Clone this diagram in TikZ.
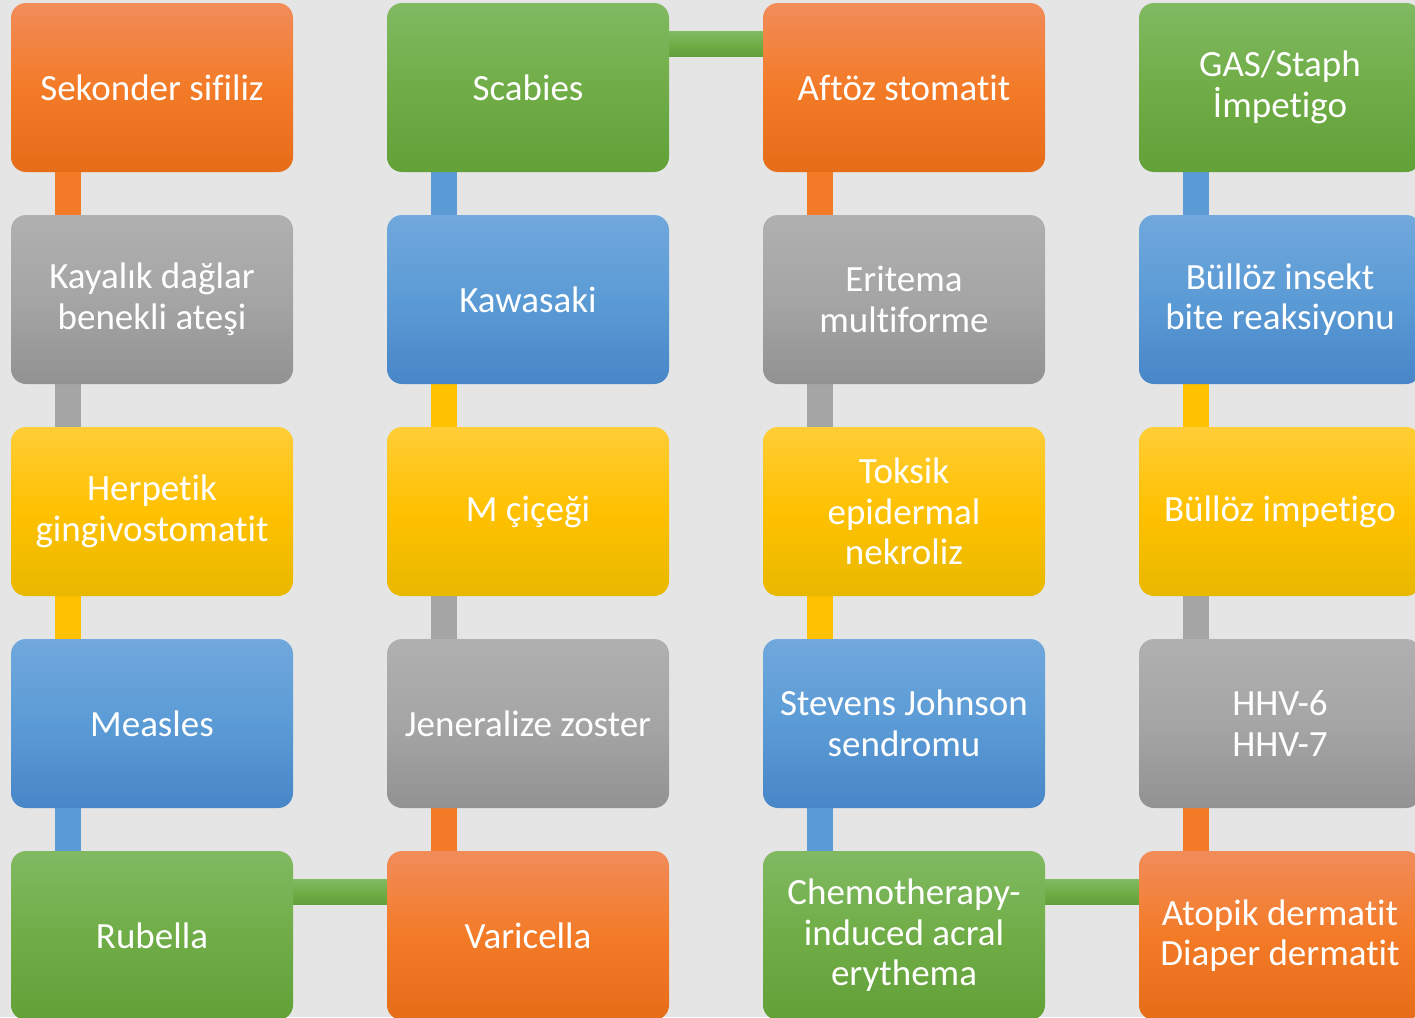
\documentclass[tikz,border=0pt]{standalone}
\usepackage{fontspec}
\setmainfont{Carlito}[Ligatures=NoCommon]
\usetikzlibrary{calc}
\pgfdeclarelayer{bg}
\pgfsetlayers{bg,main}
\definecolor{orT}{RGB}{241,140,90}\definecolor{orM}{RGB}{243,123,40}\definecolor{orB}{RGB}{230,108,24}
\definecolor{grT}{RGB}{128,186,98}\definecolor{grM}{RGB}{112,173,71}\definecolor{grB}{RGB}{98,160,56}
\definecolor{gyT}{RGB}{176,176,176}\definecolor{gyM}{RGB}{165,165,165}\definecolor{gyB}{RGB}{146,146,146}
\definecolor{blT}{RGB}{113,168,221}\definecolor{blM}{RGB}{91,155,213}\definecolor{blB}{RGB}{72,134,200}
\definecolor{yeT}{RGB}{255,205,55}\definecolor{yeM}{RGB}{255,193,0}\definecolor{yeB}{RGB}{232,184,0}
\definecolor{bgc}{RGB}{229,229,229}
\tikzset{
  box/.style={rectangle, rounded corners=15pt, minimum width=282pt, minimum height=169pt,
    inner sep=0pt, align=center, text=white, font=\fontsize{37}{40.5}\selectfont},
  OR/.style={box, top color=orT, bottom color=orB, middle color=orM},
  GR/.style={box, top color=grT, bottom color=grB, middle color=grM},
  GY/.style={box, top color=gyT, bottom color=gyB, middle color=gyM},
  BL/.style={box, top color=blT, bottom color=blB, middle color=blM},
  YE/.style={box, top color=yeT, bottom color=yeB, middle color=yeM},
  cOR/.style={fill=orM}, cGR/.style={fill=grM}, cGY/.style={fill=gyM}, cBL/.style={fill=blM}, cYE/.style={fill=yeM},
  hGR/.style={top color=grT, bottom color=grB, middle color=grM},
}
\begin{document}
\begin{tikzpicture}[x=1pt,y=-1pt]
\begin{pgfonlayer}{bg}
\fill[bgc] (0,0) rectangle (1415,1017);
\end{pgfonlayer}
\useasboundingbox (0,0) rectangle (1415,1017);
% column 1
\node[OR] (a1) at (152,87.5) {Sekonder sifiliz};
\node[GY] (a2) at (152,299.5) {Kayalık dağlar\\benekli ateşi};
\node[YE] (a3) at (152,511.5) {Herpetik\\gingivostomatit};
\node[BL] (a4) at (152,723.5) {Measles};
\node[GR] (a5) at (152,935.5) {Rubella};
% column 2
\node[GR] (b1) at (528,87.5) {Scabies};
\node[BL] (b2) at (528,299.5) {Kawasaki};
\node[YE] (b3) at (528,511.5) {M çiçeği};
\node[GY] (b4) at (528,723.5) {Jeneralize zoster};
\node[OR] (b5) at (528,935.5) {Varicella};
% column 3
\node[OR] (c1) at (904,87.5) {Aftöz stomatit};
\node[GY] (c2) at (904,299.5) {Eritema\\multiforme};
\node[YE] (c3) at (904,511.5) {Toksik\\epidermal\\nekroliz};
\node[BL] (c4) at (904,723.5) {Stevens Johnson\\sendromu};
\node[GR] (c5) at (904,935.5) {Chemotherapy-\\induced acral\\erythema};
% column 4
\node[GR] (d1) at (1280,87.5) {GAS/Staph\\İmpetigo};
\node[BL] (d2) at (1280,299.5) {Büllöz insekt\\bite reaksiyonu};
\node[YE] (d3) at (1280,511.5) {Büllöz impetigo};
\node[GY] (d4) at (1280,723.5) {HHV-6\\HHV-7};
\node[OR] (d5) at (1280,935.5) {Atopik dermatit\\Diaper dermatit};
\begin{pgfonlayer}{bg}
% vertical connectors (upper box -> lower box)
\foreach \u/\l/\s in {a1/a2/cOR,a2/a3/cGY,a3/a4/cYE,a4/a5/cBL,
                      b1/b2/cBL,b2/b3/cYE,b3/b4/cGY,b4/b5/cOR,
                      c1/c2/cOR,c2/c3/cGY,c3/c4/cYE,c4/c5/cBL,
                      d1/d2/cBL,d2/d3/cYE,d3/d4/cGY,d4/d5/cOR}
  \path[\s] ($(\u.south west)+(44,-2)$) rectangle ($(\l.north west)+(70,2)$);
% horizontal connectors
\foreach \p/\q in {a5/b5,b1/c1,c5/d5}
  \path[hGR] ($(\p.north east)+(-2,29)$) rectangle ($(\q.north west)+(2,54)$);
\end{pgfonlayer}
\end{tikzpicture}
\end{document}
